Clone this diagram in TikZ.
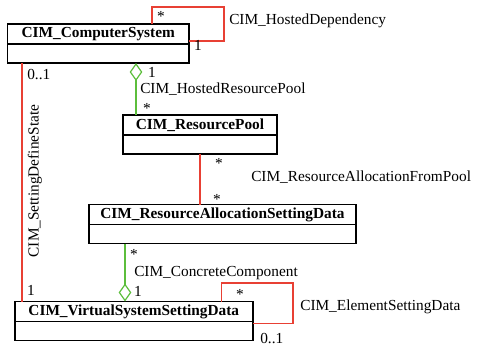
\documentclass[tikz,border=0pt]{standalone}
\usepackage{fontspec}
\setmainfont{Liberation Serif}
\usetikzlibrary{positioning,calc,arrows.meta}
\definecolor{assocred}{RGB}{232,64,52}
\definecolor{aggrgreen}{RGB}{92,190,60}
\tikzset{
  hdr/.style={draw,line width=1.2pt,minimum height=15pt,inner sep=0pt,outer sep=0pt,font=\fontsize{11.5}{13}\selectfont\bfseries},
  bdy/.style={draw,line width=1.2pt,minimum height=14.25pt,inner sep=0pt,outer sep=0pt},
  assoc/.style={assocred,line width=0.9pt},
  aggr/.style={aggrgreen,line width=0.9pt,-{Diamond[open,length=13.5pt,width=9.5pt,line width=0.9pt]}},
  mult/.style={inner sep=0pt},
  lbl/.style={inner sep=0pt,anchor=west}
}
\begin{document}
\begin{tikzpicture}[x=0.75pt,y=0.75pt,yscale=-1,xscale=1,font=\fontsize{11.5}{13}\selectfont]
\useasboundingbox (0,0) rectangle (477,347);
% classes
\node[hdr,minimum width=136.1pt] (csh) at (98.25,34) {CIM\_ComputerSystem};
\node[bdy,minimum width=136.1pt,below=0pt of csh] (csb) {};
\node[hdr,minimum width=115.5pt] (rph) at (200,125) {CIM\_ResourcePool};
\node[bdy,minimum width=115.5pt,below=0pt of rph] (rpb) {};
\node[hdr,minimum width=200.25pt] (rah) at (222.5,214.5) {CIM\_ResourceAllocationSettingData};
\node[bdy,minimum width=200.25pt,below=0pt of rah] (rab) {};
\node[hdr,minimum width=178.5pt] (vsh) at (133.8,311.5) {CIM\_VirtualSystemSettingData};
\node[bdy,minimum width=178.5pt,below=0pt of vsh] (vsb) {};
% CIM_HostedDependency
\coordinate (hdc) at (224,7);
\draw[assoc] ($(csh.north west)+(144.5,0)$) |- (hdc) |- ($(csh.south east)+(0,-3)$);
\node[mult] at (161,16) {*};
\node[mult] at (198,45) {1};
\node[lbl] at (229,21) {CIM\_HostedDependency};
% CIM_HostedResourcePool
\draw[aggr] ($(rph.north west)+(13,0)$) coordinate (hrp) -- (hrp |- csb.south);
\node[mult] at (152,72) {1};
\node[lbl] at (140,89) {CIM\_HostedResourcePool};
\node[mult] at (147,108) {*};
% CIM_ResourceAllocationFromPool
\draw[assoc] (rpb.south) -- (rpb.south |- rah.north);
\node[mult] at (219,163) {*};
\node[lbl] at (251,177) {CIM\_ResourceAllocationFromPool};
\node[mult] at (217,199) {*};
% CIM_ConcreteComponent
\draw[aggr] ($(rab.south west)+(36,0)$) coordinate (ccp) -- (ccp |- vsh.north);
\node[mult] at (134,254) {*};
\node[lbl] at (134,273) {CIM\_ConcreteComponent};
\node[mult] at (138,291) {1};
% CIM_SettingDefineState
\draw[assoc] ($(csb.south west)+(14.5,0)$) coordinate (sds) -- (sds |- vsh.north);
\node[lbl] at (27,75) {0..1};
\node[mult] at (31,290) {1};
\node[inner sep=0pt,rotate=90] at (35,181) {CIM\_SettingDefineState};
% CIM_ElementSettingData
\coordinate (esd) at (293,283);
\draw[assoc] ($(vsh.north west)+(206.3,0)$) |- (esd) |- ($(vsb.north east)+(0,2)$);
\node[mult] at (240,294) {*};
\node[lbl] at (300,307) {CIM\_ElementSettingData};
\node[lbl] at (260,338) {0..1};
\end{tikzpicture}
\end{document}
